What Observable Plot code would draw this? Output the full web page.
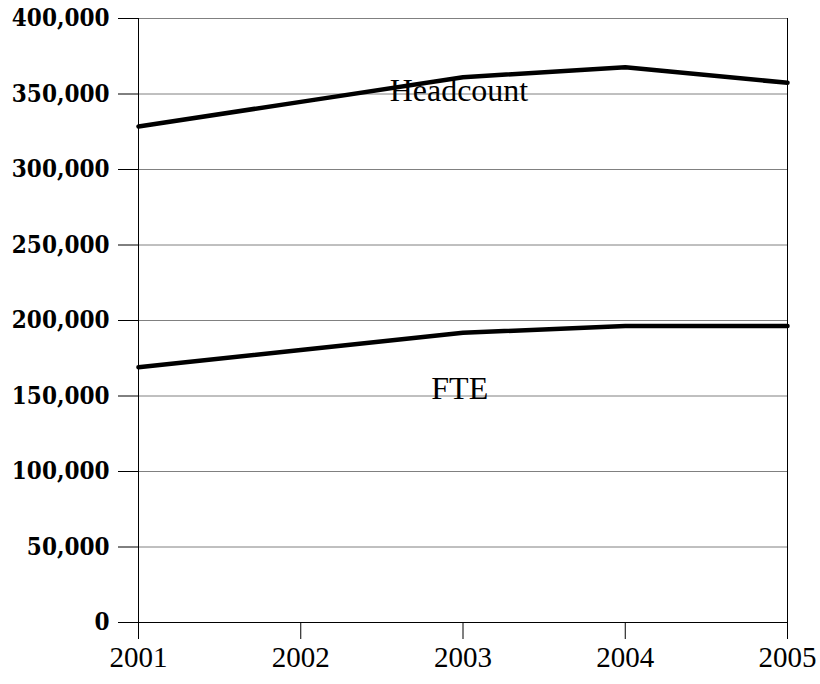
<!DOCTYPE html>
<html>
<head>
<meta charset="utf-8">
<script src="https://cdn.jsdelivr.net/npm/d3@7"></script>
<script src="https://cdn.jsdelivr.net/npm/@observablehq/plot@0.6"></script>
<style>
  html, body { margin: 0; padding: 0; background: #fff; }
  #chart svg { display: block; }
  .yax text { font-stretch: condensed; }
</style>
</head>
<body>
<div id="chart"></div>
<script>
const years = [2001, 2002, 2003, 2004, 2005];
const headcount = [328500, 344800, 361100, 367700, 357400];
const fte = [169100, 180500, 191900, 196300, 196300];
const yTicks = [0, 50000, 100000, 150000, 200000, 250000, 300000, 350000, 400000];
const seriesNames = ["Headcount", "FTE"];
const labelX = [2002.975, 2002.98];
const labelY = [352000, 154500];

const rows = [];
years.forEach((yr, i) => {
  rows.push({series: "Headcount", year: yr, value: headcount[i]});
  rows.push({series: "FTE", year: yr, value: fte[i]});
});
const labels = seriesNames.map((s, i) => ({name: s, x: labelX[i], y: labelY[i]}));

const chart = Plot.plot({
  width: 820,
  height: 684,
  marginLeft: 138,
  marginRight: 33,
  marginTop: 18,
  marginBottom: 62,
  style: {background: "#fff", color: "#000"},
  x: {domain: [2001, 2005], ticks: years},
  y: {domain: [0, 400000], ticks: yTicks},
  marks: [
    Plot.gridY(yTicks, {stroke: "#808080", strokeOpacity: 1, strokeWidth: 1}),
    Plot.ruleX([2001, 2005], {stroke: "#000", strokeWidth: 1}),
    Plot.ruleY([0], {stroke: "#000", strokeWidth: 1}),
    Plot.axisY(yTicks, {
      className: "yax",
      tickSize: 20, tickPadding: 9, stroke: "#000",
      tickFormat: d3.format(","),
      fontFamily: "'DejaVu Serif Condensed', 'DejaVu Serif'", fontWeight: "bold", fontSize: 24,
      label: null
    }),
    Plot.axisX(years, {
      tickSize: 17, tickPadding: 7, stroke: "#000",
      tickFormat: d => String(d),
      fontFamily: "Liberation Serif", fontSize: 29,
      label: null
    }),
    Plot.line(rows, {x: "year", y: "value", z: "series", stroke: "#000", strokeWidth: 4.5, strokeLinejoin: "miter"}),
    Plot.text(labels, {x: "x", y: "y", text: "name", fontFamily: "Liberation Serif", fontSize: 32, fill: "#000", textAnchor: "middle", lineAnchor: "middle"})
  ]
});
document.getElementById("chart").appendChild(chart);
</script>
</body>
</html>
